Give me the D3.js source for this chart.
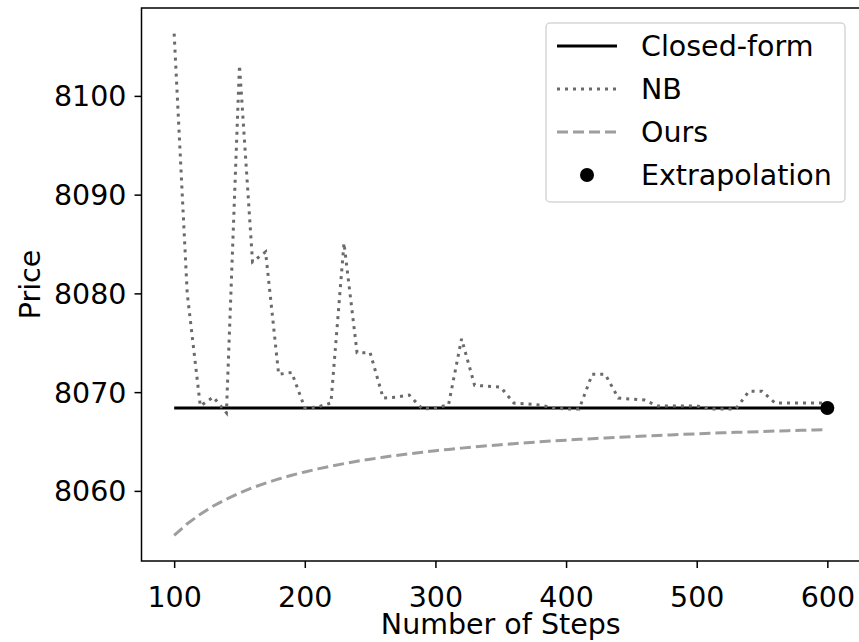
<!DOCTYPE html>
<html>
<head>
<meta charset="utf-8">
<script src="https://cdn.jsdelivr.net/npm/d3@7"></script>
<style>
  body { margin: 0; background: #fff; }
  text { font-family: "DejaVu Sans", sans-serif; fill: #000; }
</style>
</head>
<body>
<svg width="859" height="642"></svg>
<script>
var steps = [100, 110, 120, 130, 140, 150, 160, 170, 180, 190,
             200, 210, 220, 230, 240, 250, 260, 270, 280, 290,
             300, 310, 320, 330, 340, 350, 360, 370, 380, 390,
             400, 410, 420, 430, 440, 450, 460, 470, 480, 490,
             500, 510, 520, 530, 540, 550, 560, 570, 580, 590, 600];

var nbPrices = [8106.3, 8080.0, 8068.6, 8069.5, 8067.9, 8103.1, 8083.2, 8084.2, 8071.8, 8072.0,
                8068.4, 8068.5, 8068.9, 8085.1, 8074.0, 8074.0, 8069.4, 8069.5, 8069.7, 8068.3,
                8068.4, 8068.7, 8075.4, 8070.7, 8070.6, 8070.5, 8068.9, 8068.8, 8068.7, 8068.4,
                8068.3, 8068.3, 8071.8, 8071.8, 8069.4, 8069.3, 8069.2, 8068.6, 8068.6, 8068.6,
                8068.6, 8068.3, 8068.3, 8068.3, 8070.1, 8070.1, 8068.9, 8068.9, 8068.9, 8068.9, 8068.9];

var oursPrices = [8055.50, 8056.67, 8057.64, 8058.47, 8059.17, 8059.78, 8060.32, 8060.79, 8061.21, 8061.59,
                  8061.92, 8062.23, 8062.51, 8062.76, 8063.00, 8063.21, 8063.41, 8063.59, 8063.76, 8063.92,
                  8064.07, 8064.20, 8064.33, 8064.46, 8064.57, 8064.68, 8064.78, 8064.88, 8064.97, 8065.06,
                  8065.14, 8065.22, 8065.29, 8065.36, 8065.43, 8065.49, 8065.56, 8065.62, 8065.67, 8065.73,
                  8065.78, 8065.83, 8065.88, 8065.93, 8065.97, 8066.01, 8066.06, 8066.10, 8066.13, 8066.17, 8066.21];

var closedForm = 8068.4;
var extrapolation = { step: 600, price: 8068.4 };

var xTicks = [100, 200, 300, 400, 500, 600];
var yTicks = [8060, 8070, 8080, 8090, 8100];

var legendItems = ["Closed-form", "NB", "Ours", "Extrapolation"];

var svg = d3.select("svg");
var fontSize = 28.5;

var plot = { left: 141.5, right: 860, top: 8, bottom: 561 };

var x = d3.scaleLinear().domain([75, 625]).range([plot.left, plot.right]);
var y = d3.scaleLinear().domain([8052.9, 8108.9]).range([plot.bottom, plot.top]);

var nbData = steps.map(function(s, i) { return { step: s, price: nbPrices[i] }; });
var oursData = steps.map(function(s, i) { return { step: s, price: oursPrices[i] }; });

var line = d3.line()
    .x(function(d) { return x(d.step); })
    .y(function(d) { return y(d.price); });

// closed-form reference
svg.append("path")
    .datum([{ step: steps[0], price: closedForm }, { step: steps[steps.length - 1], price: closedForm }])
    .attr("d", line)
    .attr("fill", "none")
    .attr("stroke", "#000")
    .attr("stroke-width", 3);

svg.append("path")
    .datum(nbData)
    .attr("d", line)
    .attr("fill", "none")
    .attr("stroke", "#6a6a6a")
    .attr("stroke-width", 3)
    .attr("stroke-dasharray", "3,5");

svg.append("path")
    .datum(oursData)
    .attr("d", line)
    .attr("fill", "none")
    .attr("stroke", "#9e9e9e")
    .attr("stroke-width", 3)
    .attr("stroke-dasharray", "11,5");

svg.append("circle")
    .attr("cx", x(extrapolation.step))
    .attr("cy", y(extrapolation.price))
    .attr("r", 7)
    .attr("fill", "#000");

// axes
var xAxis = svg.append("g")
    .attr("transform", "translate(0," + plot.bottom + ")")
    .call(d3.axisBottom(x).tickValues(xTicks).tickSize(7).tickPadding(8).tickFormat(d3.format("d")));

var yAxis = svg.append("g")
    .attr("transform", "translate(" + plot.left + ",0)")
    .call(d3.axisLeft(y).tickValues(yTicks).tickSize(7).tickPadding(8).tickFormat(d3.format("d")));

[xAxis, yAxis].forEach(function(g) {
  g.select(".domain").remove();
  g.selectAll(".tick line").attr("stroke", "#000").attr("stroke-width", 1.5);
  g.selectAll(".tick text")
      .style("font-family", "DejaVu Sans")
      .style("font-size", fontSize + "px")
      .attr("fill", "#000");
});
xAxis.selectAll(".tick text").attr("dy", null).attr("y", 46);
yAxis.selectAll(".tick text").attr("dy", "0.35em");

// frame
svg.append("rect")
    .attr("x", plot.left)
    .attr("y", plot.top)
    .attr("width", plot.right - plot.left)
    .attr("height", plot.bottom - plot.top)
    .attr("fill", "none")
    .attr("stroke", "#000")
    .attr("stroke-width", 1.5);

svg.append("text")
    .attr("x", (plot.left + plot.right) / 2)
    .attr("y", 634)
    .attr("text-anchor", "middle")
    .style("font-size", fontSize + "px")
    .text("Number of Steps");

svg.append("text")
    .attr("transform", "translate(40," + (plot.top + plot.bottom) / 2 + ") rotate(-90)")
    .attr("text-anchor", "middle")
    .style("font-size", fontSize + "px")
    .text("Price");

// legend
var legend = svg.append("g");

legend.append("rect")
    .attr("x", 546)
    .attr("y", 23)
    .attr("width", 299)
    .attr("height", 179)
    .attr("rx", 4)
    .attr("fill", "#fff")
    .attr("fill-opacity", 0.8)
    .attr("stroke", "#d6d6d6")
    .attr("stroke-width", 1.5);

var rowY = d3.scalePoint().domain(legendItems).range([46, 175]);

var handles = {
  "Closed-form": { stroke: "#000", dash: null },
  "NB": { stroke: "#6a6a6a", dash: "3,5" },
  "Ours": { stroke: "#9e9e9e", dash: "11,5" }
};

legendItems.forEach(function(name) {
  var cy = rowY(name);
  if (handles[name]) {
    legend.append("line")
        .attr("x1", 557)
        .attr("x2", 617)
        .attr("y1", cy)
        .attr("y2", cy)
        .attr("stroke", handles[name].stroke)
        .attr("stroke-width", 3)
        .attr("stroke-dasharray", handles[name].dash);
  } else {
    legend.append("circle")
        .attr("cx", 587)
        .attr("cy", cy)
        .attr("r", 7)
        .attr("fill", "#000");
  }
  legend.append("text")
      .attr("x", 641)
      .attr("y", cy + 10)
      .style("font-size", fontSize + "px")
      .text(name);
});
</script>
</body>
</html>
